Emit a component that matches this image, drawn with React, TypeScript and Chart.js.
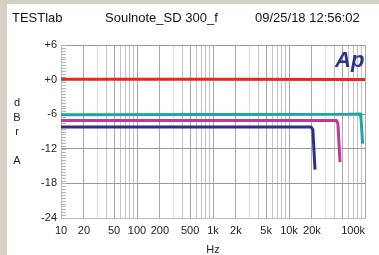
import React, { useEffect, useRef } from "react";
import { Chart, registerables } from "chart.js";

Chart.register(...registerables);

const xTickValues = [10, 20, 50, 100, 200, 500, 1000, 2000, 5000, 10000, 20000, 100000];
const xTickLabels = ["10", "20", "50", "100", "200", "500", "1k", "2k", "5k", "10k", "20k", "100k"];

const redFreq = [10, 1000, 100000];
const redDb = [0.05, 0.05, 0.0];

const cyanFreq = [10, 1000, 60000, 86000, 88500, 93000];
const cyanDb = [-6.1, -6.05, -6.0, -5.95, -6.6, -11.1];

const magentaFreq = [10, 1000, 42000, 44000, 46900];
const magentaDb = [-7.1, -7.1, -7.1, -7.6, -14.3];

const navyFreq = [10, 1000, 19600, 20600, 22000];
const navyDb = [-8.2, -8.2, -8.2, -8.7, -15.6];

const yTitleLetters = ["d", "B", "r", "", "A"];

const toPoints = (xs: number[], ys: number[]) => xs.map((x, i) => ({ x, y: ys[i] }));

const FONT = "'Liberation Sans', Arial, sans-serif";

export default function App() {
  const ref = useRef<HTMLCanvasElement | null>(null);

  useEffect(() => {
    if (!ref.current) return;
    const allTicks: number[] = [];
    for (let d = 10; d <= 100000; d *= 10) {
      for (let m = 1; m <= 9; m++) {
        const v = d * m;
        if (v <= 100000) allTicks.push(v);
      }
    }
    const extras = {
      id: "extras",
      beforeDraw(chart: any) {
        const items = chart.scales.x.getLabelItems(chart.chartArea);
        items.forEach((it: any) => {
          if (it.label === "100k") it.options.textAlign = "right";
        });
      },
      beforeDatasetsDraw(chart: any) {
        const { ctx, chartArea, scales } = chart;
        ctx.save();
        ctx.strokeStyle = "#b5b5b5";
        ctx.lineWidth = 1;
        for (let v = -24; v <= 6; v += 0.5) {
          const y = Math.round(scales.y.getPixelForValue(v)) + 0.5;
          ctx.beginPath();
          ctx.moveTo(chartArea.left, y);
          ctx.lineTo(chartArea.left + 5, y);
          ctx.stroke();
        }
        ctx.restore();
      },
      afterDraw(chart: any) {
        const { ctx } = chart;
        ctx.save();
        ctx.fillStyle = "#222";
        ctx.font = `11px ${FONT}`;
        ctx.textAlign = "center";
        ctx.textBaseline = "middle";
        yTitleLetters.forEach((l, i) => {
          if (l) ctx.fillText(l, 17, 103 + i * 14.5);
        });
        ctx.fillStyle = "#2e3192";
        ctx.font = `italic bold 22px ${FONT}`;
        ctx.textAlign = "left";
        ctx.textBaseline = "alphabetic";
        ctx.fillText("Ap", 335, 67);
        ctx.restore();
      },
    };

    const chart = new Chart(ref.current, {
      type: "line",
      data: {
        datasets: [
          { data: toPoints(redFreq, redDb), borderColor: "#e8271d" },
          { data: toPoints(cyanFreq, cyanDb), borderColor: "#1ea7a1" },
          { data: toPoints(magentaFreq, magentaDb), borderColor: "#c2369b" },
          { data: toPoints(navyFreq, navyDb), borderColor: "#2b2f8d" },
        ].map((d) => ({
          ...d,
          borderWidth: 3,
          pointRadius: 0,
          fill: false,
          tension: 0,
          borderJoinStyle: "round" as const,
        })),
      },
      options: {
        responsive: false,
        animation: false,
        devicePixelRatio: 1,
        layout: { padding: { left: 0, top: 45, right: 14, bottom: 0 } },
        plugins: { legend: { display: false }, tooltip: { enabled: false } },
        scales: {
          x: {
            type: "logarithmic",
            min: 10,
            max: 100000,
            afterBuildTicks: (scale: any) => {
              scale.ticks = allTicks.map((v) => ({ value: v }));
            },
            afterFit: (scale: any) => {
              scale.height = 37;
              scale.paddingLeft = 0;
              scale.paddingRight = 0;
            },
            ticks: {
              autoSkip: false,
              maxRotation: 0,
              minRotation: 0,
              padding: 6,
              color: "#222",
              font: { family: FONT, size: 11 },
              callback: (v: any) => {
                const i = xTickValues.indexOf(Number(v));
                return i >= 0 ? xTickLabels[i] : "";
              },
            },
            grid: {
              drawTicks: false,
              lineWidth: 1,
              color: (c: any) => {
                const v = c.tick ? c.tick.value : 0;
                const m = Math.round(v / Math.pow(10, Math.floor(Math.log10(v) + 1e-9)));
                if (m === 1 || m === 2 || m === 5) return "#a8a8a8";
                if (m === 3) return "#e0e0e0";
                return "#c4c4c4";
              },
            },
            border: { display: true, color: "#bdbdbd" },
            title: {
              display: true,
              text: "Hz",
              color: "#222",
              font: { family: FONT, size: 11 },
              padding: { top: 0, bottom: -2 },
            },
          },
          y: {
            min: -24,
            max: 6,
            afterFit: (scale: any) => {
              scale.width = 61;
            },
            ticks: {
              stepSize: 6,
              padding: 4,
              color: "#222",
              font: { family: FONT, size: 11 },
              callback: (v: any) => (Number(v) >= 0 ? "+" + v : String(v)),
            },
            grid: { drawTicks: false, color: "#9a9a9a", lineWidth: 1 },
            border: { display: true, color: "#bdbdbd" },
          },
        },
      },
      plugins: [extras],
    } as any);
    return () => chart.destroy();
  }, []);

  const headerStyle: React.CSSProperties = {
    position: "absolute",
    top: 10,
    fontFamily: FONT,
    fontSize: 13,
    color: "#111",
    whiteSpace: "nowrap",
    lineHeight: "16px",
  };

  return (
    <div
      style={{
        position: "fixed",
        left: 0,
        top: 0,
        width: 379,
        height: 255,
        background: "#d5cfc4",
        overflow: "hidden",
      }}
    >
      <div
        style={{
          position: "absolute",
          left: 7,
          top: 4,
          width: 372,
          height: 251,
          background: "#ffffff",
        }}
      />
      <canvas
        ref={ref}
        width={379}
        height={255}
        style={{ position: "absolute", left: 0, top: 0, width: 379, height: 255 }}
      />
      <div style={{ ...headerStyle, left: 12 }}>TESTlab</div>
      <div style={{ ...headerStyle, left: 105 }}>Soulnote_SD 300_f</div>
      <div style={{ ...headerStyle, left: 255 }}>09/25/18 12:56:02</div>
    </div>
  );
}
